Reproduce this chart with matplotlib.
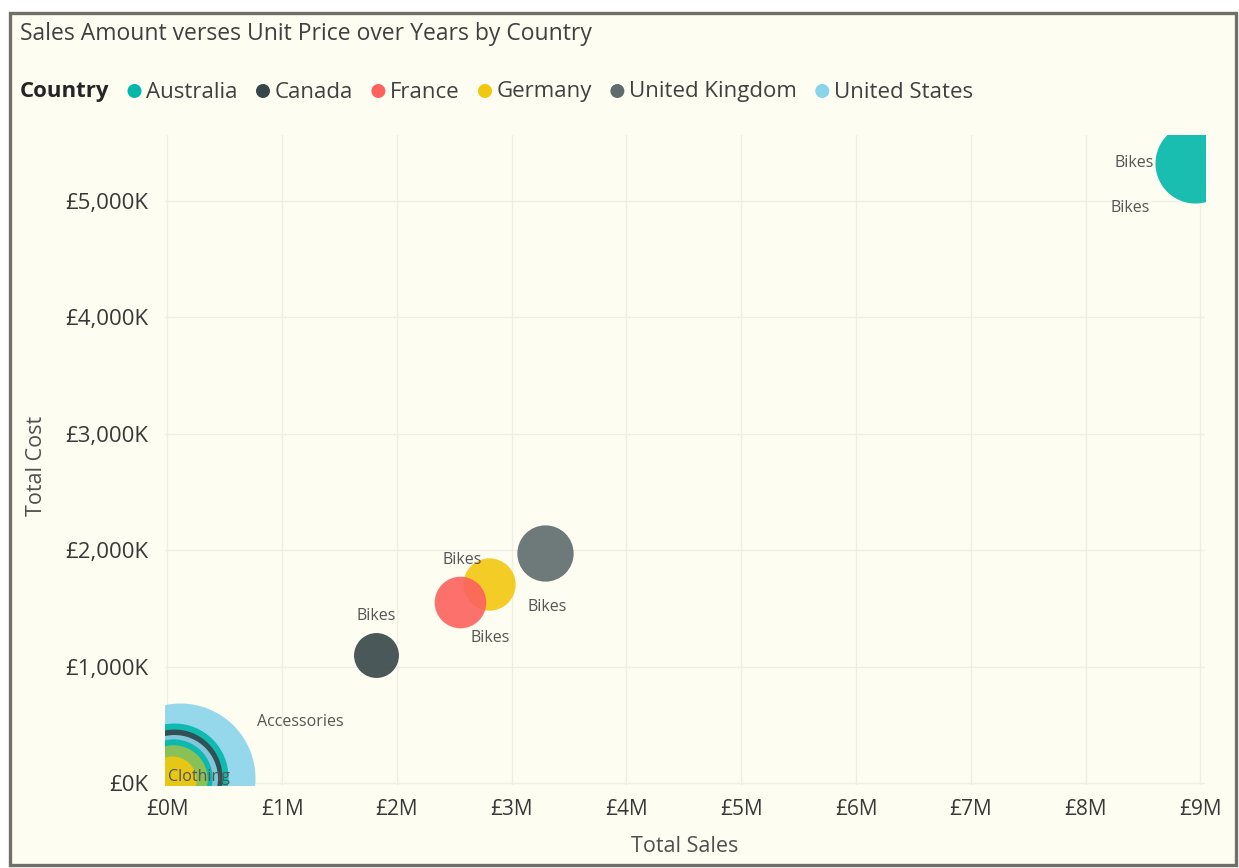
import numpy as np
import matplotlib
matplotlib.use("Agg")
import matplotlib.pyplot as plt
from matplotlib.patches import Rectangle, Ellipse
from matplotlib.ticker import FuncFormatter, MultipleLocator

# ---- data -------------------------------------------------------------
countries = ["Australia", "Canada", "France", "Germany", "United Kingdom", "United States"]
country_colors = ["#01B8AA", "#374649", "#FD625E", "#F2C80F", "#5F6B6D", "#8AD4EB"]

point_country = ["Australia", "Canada", "France", "Germany", "United Kingdom", "United States",
                 "United States", "Australia", "Canada", "United States", "Australia",
                 "Germany", "Germany"]
point_category = ["Bikes", "Bikes", "Bikes", "Bikes", "Bikes", "Bikes",
                  "Accessories", "Accessories", "Accessories", "Clothing", "Clothing",
                  "Accessories", "Clothing"]
total_sales_m = [8.95, 1.82, 2.55, 2.80, 3.29, 9.60,
                 0.11, 0.06, 0.06, 0.06, 0.05, 0.05, 0.04]
total_cost_k = [5322, 1099, 1554, 1708, 1974, 5150,
                45, 55, 50, 48, 45, 40, 25]
order_qty = [178, 56, 74, 76, 88, 150,
             625, 324, 256, 210, 170, 130, 64]

# visible data labels (offset in pixels from the bubble centre)
label_points = [0, 1, 2, 3, 4, 5, 6, 12]
label_offsets = [(-60, 0), (0, 39), (30, -36), (-27, 24), (2, -54), (-139, -25), (120, 56), (27, 3)]

# ---- figure -------------------------------------------------------------
W, H, DPI = 1239, 868, 100
plt.rcParams["font.family"] = ["Open Sans", "DejaVu Sans"]
fig = plt.figure(figsize=(W / DPI, H / DPI), dpi=DPI, facecolor="white")


def fx(px):
    return px / W


def fy(py):
    return 1 - py / H


# card background and frame
card = Rectangle((fx(10), fy(865)), fx(1236) - fx(10), fy(13) - fy(865),
                 transform=fig.transFigure, facecolor="#FDFDF1",
                 edgecolor="#707068", linewidth=2.4, zorder=-5)
fig.add_artist(card)

ax = fig.add_axes([fx(165), fy(785), fx(1205) - fx(165), fy(135) - fy(785)], zorder=2)
ax.set_facecolor("none")
ax.set_xlim(-0.02, 9.04)
ax.set_ylim(-15, 5562)
for s in ax.spines.values():
    s.set_visible(False)

ax.xaxis.set_major_locator(MultipleLocator(1))
ax.yaxis.set_major_locator(MultipleLocator(1000))
ax.xaxis.set_major_formatter(FuncFormatter(lambda v, p: f"£{v:.0f}M"))
ax.yaxis.set_major_formatter(FuncFormatter(lambda v, p: f"£{v:,.0f}K"))
ax.tick_params(axis="both", length=0, colors="#383838")
ax.tick_params(axis="y", pad=12, labelsize=16)
ax.tick_params(axis="x", pad=10, labelsize=15)
ax.grid(True, color="#EEEEE2", linewidth=1.0)
ax.set_axisbelow(True)

color_of = dict(zip(countries, country_colors))


def radius_px(q):
    return 3.0 * np.sqrt(q)


# larger bubbles first so the smaller ones stay visible on top
order = np.argsort(order_qty)[::-1]
for i in order:
    r = radius_px(order_qty[i])
    d_pt = 2 * r * 72 / DPI
    alpha = 0.9
    if point_country[i] == "Germany" and point_category[i] == "Accessories":
        alpha = 0.55
    sc = ax.scatter(total_sales_m[i], total_cost_k[i], s=d_pt ** 2,
                    color=color_of[point_country[i]], alpha=alpha, linewidths=0, zorder=3)
    sc.set_clip_on(True)
    sc.set_clip_path(ax.patch)

for i, (dx, dy) in zip(label_points, label_offsets):
    ax.annotate(point_category[i], (total_sales_m[i], total_cost_k[i]),
                xytext=(dx, dy), textcoords="offset pixels", ha="center", va="center",
                fontsize=11.5, color="#555555", zorder=5, annotation_clip=False)

# titles
fig.text(fx(20), fy(34), "Sales Amount verses Unit Price over Years by Country",
         ha="left", va="center", fontsize=16.5, color="#404040")
fig.text(fx(685), fy(847), "Total Sales", ha="center", va="center", fontsize=15.5, color="#505050")
fig.text(fx(37), fy(466), "Total Cost", ha="center", va="center", rotation=90,
         fontsize=15.5, color="#505050")

# legend row
fig.canvas.draw()
renderer = fig.canvas.get_renderer()
ly = fy(92)
t = fig.text(fx(20), ly, "Country", ha="left", va="center", fontsize=16,
             fontweight="bold", color="#252525")
x_px = t.get_window_extent(renderer).x1
for name, col in zip(countries, country_colors):
    cx = x_px + 25
    fig.add_artist(Ellipse((fx(cx), fy(91)), 14 / W, 14 / H, transform=fig.transFigure,
                           facecolor=col, edgecolor="none"))
    tt = fig.text(fx(cx + 12), ly, name, ha="left", va="center", fontsize=16, color="#404040")
    x_px = tt.get_window_extent(renderer).x1

fig.savefig("out.png", dpi=DPI, facecolor="white")
